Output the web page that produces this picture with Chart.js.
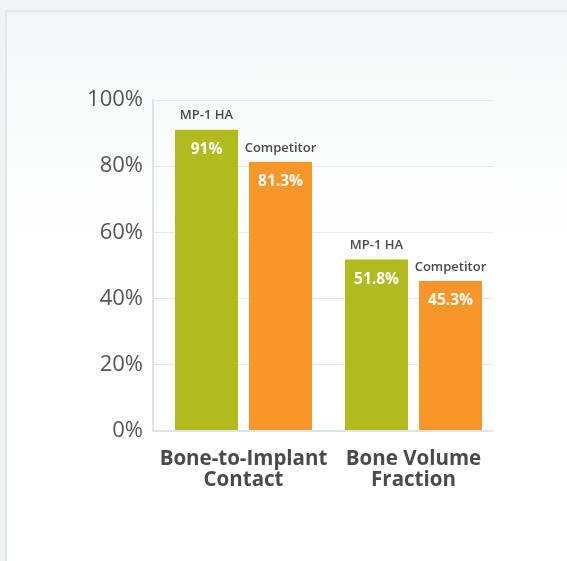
<!DOCTYPE html>
<html>
<head>
<meta charset="utf-8">
<script src="https://cdn.jsdelivr.net/npm/chart.js@4.4.0/dist/chart.umd.min.js"></script>
<style>
  html, body { margin: 0; padding: 0; }
  body { width: 567px; height: 561px; background: #f2f3f4; position: relative; overflow: hidden; }
  .card {
    position: absolute; left: 5px; top: 10px; width: 600px; height: 600px;
    border-left: 2px solid #e3e6e9; border-top: 2px solid #e3e6e9;
    background: linear-gradient(to bottom, #f5f6f7 0px, #fafbfb 120px, #ffffff 230px);
  }
  #chart { position: absolute; left: 0; top: 0; }
</style>
</head>
<body>
<div class="card"></div>
<canvas id="chart" width="567" height="561"></canvas>
<script>
/** data **/
const categories = [
  ['Bone-to-Implant', 'Contact'],
  ['Bone Volume', 'Fraction']
];
const seriesNames = ['MP-1 HA', 'Competitor'];
const mp1Values = [91, 51.8];
const competitorValues = [81.3, 45.3];
const yTicks = [0, 20, 40, 60, 80, 100];

const green = 'rgb(178, 187, 30)';
const orange = 'rgb(248, 150, 41)';
const axisColor = '#dde3e6';

// labels on and above each bar
const barLabels = {
  id: 'barLabels',
  afterDatasetsDraw(chart) {
    const ctx = chart.ctx;
    chart.data.datasets.forEach(function(ds, i) {
      chart.getDatasetMeta(i).data.forEach(function(bar, j) {
        ctx.save();
        ctx.textAlign = 'center';
        ctx.textBaseline = 'middle';
        ctx.fillStyle = '#ffffff';
        ctx.font = 'bold 15.5px "Open Sans"';
        ctx.fillText(ds.data[j] + '%', bar.x, bar.y + 20);
        ctx.fillStyle = '#4a4a4a';
        ctx.font = '600 13px "Open Sans"';
        ctx.fillText(ds.label, bar.x, bar.y - 14);
        ctx.restore();
      });
    });
  }
};

// the bar groups sit a little right of the grid's centre
const shiftX = {
  id: 'shiftX',
  afterLayout(chart) {
    const x = chart.scales.x;
    x.left += 5.5;
    x.right += 5.5;
    x.configure();
  }
};

const data = {
  labels: categories,
  datasets: [{
    label: seriesNames[0],
    data: mp1Values,
    backgroundColor: green
  }, {
    label: seriesNames[1],
    data: competitorValues,
    backgroundColor: orange
  }]
};

const config = {
  type: 'bar',
  data: data,
  plugins: [shiftX, barLabels],
  options: {
    responsive: false,
    animation: false,
    categoryPercentage: 0.8706,
    barPercentage: 0.8514,
    layout: {
      padding: { left: 60, right: 74, top: 100, bottom: 70 }
    },
    plugins: {
      legend: false,
      tooltip: { enabled: false }
    },
    scales: {
      y: {
        min: 0,
        max: 100,
        afterFit: function(s) { s.width = 93; },
        afterBuildTicks: function(s) { s.ticks = yTicks.map(function(v) { return { value: v }; }); },
        ticks: {
          color: '#555555',
          padding: 10,
          font: { family: '"Open Sans"', size: 22, weight: 400 },
          callback: function(v) { return v + '%'; }
        },
        grid: {
          color: function(c) { return c.tick && c.tick.value === 0 ? axisColor : '#e3e8eb'; },
          lineWidth: function(c) { return c.tick && c.tick.value === 0 ? 2 : 1; },
          drawTicks: false
        },
        border: { display: true, color: axisColor, width: 2 }
      },
      x: {
        afterFit: function(s) { s.height = 60; },
        ticks: {
          color: '#4a4a4a',
          padding: 9,
          autoSkip: false,
          maxRotation: 0,
          minRotation: 0,
          font: { family: '"Open Sans"', size: 20.5, weight: 'bold', lineHeight: 1.05 }
        },
        grid: { display: false },
        border: { display: false }
      }
    }
  }
};

const chart = new Chart(document.getElementById('chart'), config);
</script>
</body>
</html>
